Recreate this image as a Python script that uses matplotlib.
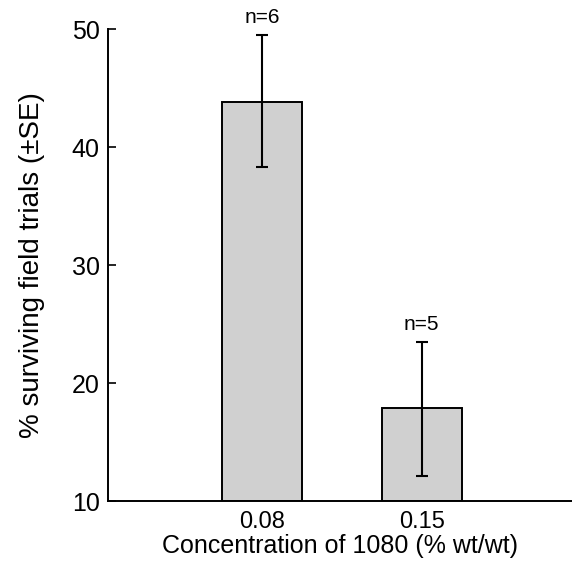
import matplotlib
matplotlib.use("Agg")
import matplotlib.pyplot as plt

categories = ["0.08", "0.15"]
means = [43.8, 17.9]
se_upper = [5.7, 5.6]
se_lower = [5.5, 5.8]
n_labels = ["n=6", "n=5"]

plt.rcParams['font.family'] = ['Liberation Sans', 'DejaVu Sans']

fig = plt.figure(figsize=(5.72, 5.72), dpi=100)
ax = fig.add_axes([0.189, 0.124, 0.811, 0.825])

x = list(range(len(categories)))
ax.bar(x, [m - 10 for m in means], bottom=10, width=0.5,
       color='#d0d0d0', edgecolor='black', linewidth=1.4, zorder=2)
ax.errorbar(x, means, yerr=[se_lower, se_upper], fmt='none',
            ecolor='black', elinewidth=1.5, capsize=4, capthick=1.5, zorder=3)
for xi, m, up, lab in zip(x, means, se_upper, n_labels):
    ax.text(xi, m + up + 1.0, lab, ha='center', va='baseline', fontsize=15)

ax.set_xlim(-0.962, 1.94)
ax.set_ylim(10, 50)
ax.set_yticks([10, 20, 30, 40, 50])
ax.set_xticks(x)
ax.set_xticklabels(categories)
ax.tick_params(axis='both', direction='in', length=6, width=1.2)
ax.tick_params(axis='y', labelsize=18, pad=6)
ax.tick_params(axis='x', labelsize=17, pad=7)
for s in ['top', 'right']:
    ax.spines[s].set_visible(False)
for s in ['left', 'bottom']:
    ax.spines[s].set_linewidth(1.4)

ax.set_xlabel("Concentration of 1080 (% wt/wt)", fontsize=18, labelpad=1)
ax.set_ylabel("% surviving field trials (\u00b1SE)", fontsize=20, labelpad=19)

fig.savefig("out.png", dpi=100)
